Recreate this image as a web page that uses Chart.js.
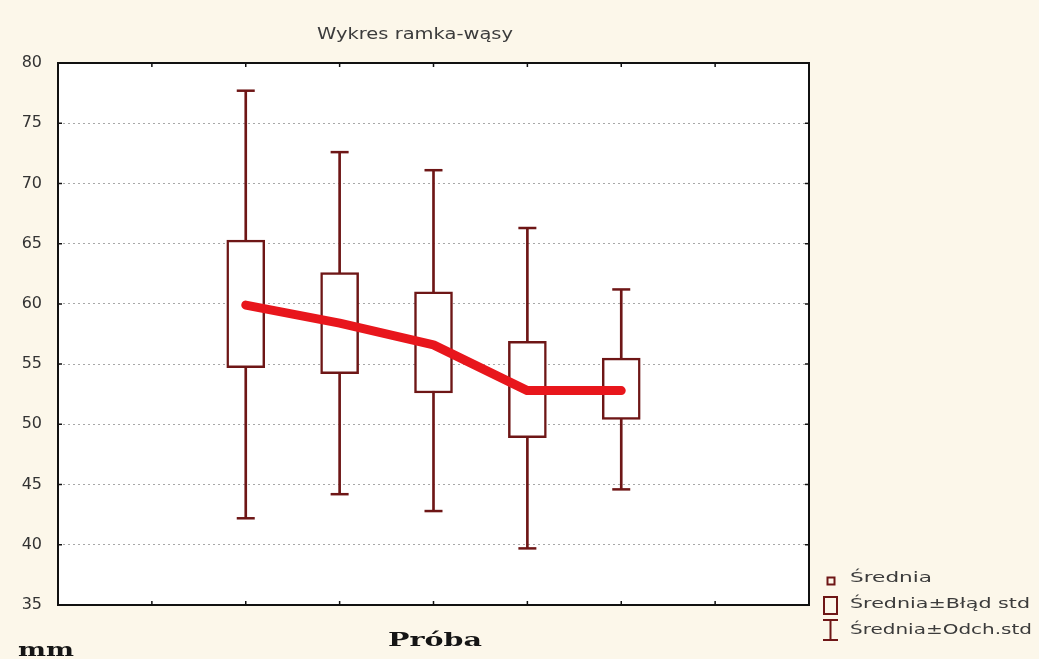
<!DOCTYPE html>
<html lang="pl">
<head>
<meta charset="utf-8">
<title>Wykres ramka-wąsy</title>
<script src="https://cdn.jsdelivr.net/npm/chart.js@4.4.1/dist/chart.umd.min.js"></script>
<style>
  html, body { margin: 0; padding: 0; background: #fcf7ea; }
  #wrap { width: 1039px; height: 659px; position: relative; }
</style>
</head>
<body>
<div id="wrap"><canvas id="boxChart" width="1039" height="659"></canvas></div>
<script>
// positions of the five samples on the x axis (axis runs 0..8)
const samplePos = [2, 3, 4, 5, 6];
const means = [59.9, 58.4, 56.6, 52.8, 52.8];
const seLow = [54.7, 54.2, 52.6, 48.9, 50.4];
const seHigh = [65.3, 62.6, 61.0, 56.9, 55.5];
const sdLow = [42.2, 44.2, 42.8, 39.7, 44.6];
const sdHigh = [77.7, 72.6, 71.1, 66.3, 61.2];
const xTicks = [1, 2, 3, 4, 5, 6, 7];
const yTicks = [40, 45, 50, 55, 60, 65, 70, 75];

const titleText = 'Wykres ramka-wąsy';
const xTitle = 'Próba';
const yTitle = 'mm';
const legendLabels = ['Średnia', 'Średnia±Błąd std', 'Średnia±Odch.std'];

const MAROON = '#6e1616';
const RED = '#e8161c';

// text squeezed/stretched to a given width (the original is a stretched screenshot)
function drawText(ctx, txt, left, y, width, font, color, baseline) {
  ctx.save();
  ctx.font = font;
  ctx.fillStyle = color;
  ctx.textAlign = 'left';
  ctx.textBaseline = baseline || 'middle';
  const w = ctx.measureText(txt).width;
  ctx.translate(left, y);
  ctx.scale(width / w, 1);
  ctx.fillText(txt, 0, 0);
  ctx.restore();
}

const framePlugin = {
  id: 'frame',
  beforeDraw(chart) {
    const { ctx, chartArea: a } = chart;
    ctx.save();
    ctx.fillStyle = '#fcf7ea';
    ctx.fillRect(0, 0, chart.width, chart.height);
    ctx.fillStyle = '#ffffff';
    ctx.fillRect(a.left, a.top, a.right - a.left, a.bottom - a.top);
    ctx.restore();
  },
  afterDraw(chart) {
    const { ctx, chartArea: a, scales } = chart;
    ctx.save();
    // frame
    ctx.strokeStyle = '#111';
    ctx.lineWidth = 2;
    ctx.strokeRect(a.left, a.top, a.right - a.left, a.bottom - a.top);

    // inward tick marks
    ctx.lineWidth = 1.5;
    ctx.beginPath();
    xTicks.forEach(t => {
      const px = scales.x.getPixelForValue(t);
      ctx.moveTo(px, a.bottom); ctx.lineTo(px, a.bottom - 4);
      ctx.moveTo(px, a.top); ctx.lineTo(px, a.top + 4);
    });
    yTicks.forEach(t => {
      const py = scales.y.getPixelForValue(t);
      ctx.moveTo(a.left, py); ctx.lineTo(a.left + 4, py);
      ctx.moveTo(a.right, py); ctx.lineTo(a.right - 4, py);
    });
    ctx.stroke();

    // titles
    drawText(ctx, titleText, 317, 35, 196, '15px "DejaVu Sans"', '#3c3c3c');
    drawText(ctx, xTitle, 388, 646, 94, 'bold 18px "DejaVu Serif"', '#151515', 'alphabetic');
    drawText(ctx, yTitle, 18, 656, 56, 'bold 19px "DejaVu Serif"', '#151515', 'alphabetic');

    // legend
    ctx.strokeStyle = MAROON;
    ctx.lineWidth = 2;
    ctx.strokeRect(827.5, 577.5, 7, 7);
    ctx.strokeRect(824, 597, 13, 17);
    ctx.beginPath();
    ctx.moveTo(830.5, 620); ctx.lineTo(830.5, 640);
    ctx.moveTo(823, 620); ctx.lineTo(838, 620);
    ctx.moveTo(823, 640); ctx.lineTo(838, 640);
    ctx.stroke();
    const legendY = [578, 604, 630];
    const legendW = [82, 180, 182];
    legendLabels.forEach((lab, i) => {
      drawText(ctx, lab, 850, legendY[i], legendW[i], '14px "DejaVu Sans"', '#3c3c3c');
    });
    ctx.restore();
  }
};

const ctx = document.getElementById('boxChart').getContext('2d');
new Chart(ctx, {
  type: 'scatter',
  data: {
    datasets: [
      {
        // mean line
        type: 'line',
        data: samplePos.map((x, i) => ({ x: x, y: means[i] })),
        borderColor: RED,
        borderWidth: 9,
        borderCapStyle: 'round',
        borderJoinStyle: 'round',
        pointRadius: 0,
        tension: 0,
        order: 1
      },
      {
        // mean ± std error box
        type: 'bar',
        data: samplePos.map((x, i) => ({ x: x, y: [seLow[i], seHigh[i]] })),
        backgroundColor: '#ffffff',
        borderColor: MAROON,
        borderWidth: 2.5,
        borderSkipped: false,
        barThickness: 38,
        grouped: false,
        order: 2
      },
      {
        // whisker caps (top)
        type: 'scatter',
        data: samplePos.map((x, i) => ({ x: x, y: sdHigh[i] })),
        pointStyle: 'line',
        pointRadius: 9,
        borderColor: MAROON,
        borderWidth: 2.5,
        order: 3
      },
      {
        // whisker caps (bottom)
        type: 'scatter',
        data: samplePos.map((x, i) => ({ x: x, y: sdLow[i] })),
        pointStyle: 'line',
        pointRadius: 9,
        borderColor: MAROON,
        borderWidth: 2.5,
        order: 3
      },
      {
        // mean ± std dev whisker
        type: 'bar',
        data: samplePos.map((x, i) => ({ x: x, y: [sdLow[i], sdHigh[i]] })),
        backgroundColor: MAROON,
        borderWidth: 0,
        barThickness: 2,
        grouped: false,
        order: 4
      }
    ]
  },
  options: {
    responsive: false,
    animation: false,
    layout: { padding: { top: 63, right: 230, bottom: 54, left: 0 } },
    plugins: {
      legend: { display: false },
      tooltip: { enabled: false },
      title: { display: false }
    },
    scales: {
      x: {
        type: 'linear',
        min: 0, max: 8,
        offset: false,
        display: false,
        grid: { offset: false }
      },
      y: {
        type: 'linear',
        min: 35, max: 80,
        beginAtZero: false,
        afterFit: s => { s.width = 58; },
        border: { display: false, dash: [2, 3] },
        grid: {
          color: '#a8a8a8',
          lineWidth: 1,
          drawTicks: false
        },
        ticks: {
          stepSize: 5,
          padding: 16,
          color: '#333',
          font: { family: 'DejaVu Sans', size: 16 }
        }
      }
    }
  },
  plugins: [framePlugin]
});
</script>
</body>
</html>
